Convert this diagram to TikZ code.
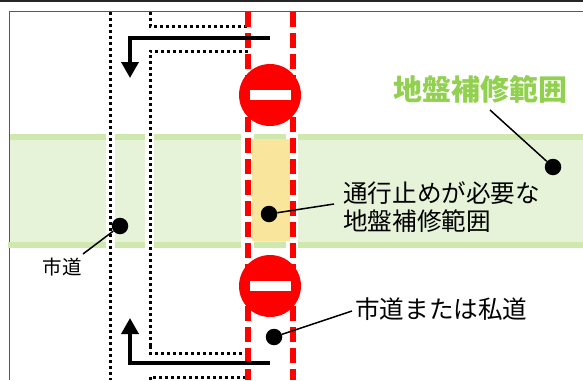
\documentclass[tikz,border=0pt]{standalone}
\usepackage{fontspec}
\newfontfamily\jpfont{Noto Sans CJK JP}
\usetikzlibrary{arrows.meta,positioning,calc}
\definecolor{bandlight}{HTML}{E6F3D8}
\definecolor{banddark}{HTML}{CFE8AE}
\definecolor{bandtext}{HTML}{92D050}
\definecolor{closedzone}{HTML}{F9E59B}
\tikzset{
  x=1pt,y=-1pt,
  dotline/.style={line width=3pt,dash pattern=on 3pt off 3pt},
  redline/.style={red,line width=6pt,dash pattern=on 15pt off 6pt},
  detour/.style={line width=3.6pt,-{Triangle[length=16pt,width=17pt]}},
  noentry/.style={circle,fill=red,minimum size=62pt,inner sep=0pt},
  noentrybar/.style={fill=white,minimum width=41pt,minimum height=10.5pt,inner sep=0pt},
  pin/.style={circle,fill=black,minimum size=16.5pt,inner sep=0pt},
  leader/.style={line width=1.5pt},
  label/.style={font=\jpfont\fontsize{24.6}{30}\selectfont,anchor=west,inner sep=0pt,align=left},
}
\begin{document}
\begin{tikzpicture}
    \useasboundingbox (0,0) rectangle (583,380);
    % frame
    \draw[line width=2pt,black!85] (0,0.5) -- (583,0.5);
    \draw[line width=1pt,black!65] (9,380) -- (9,11) -- (583,11);

    % ground repair band
    \fill[bandlight] (10,139) rectangle (583,242);
    \fill[banddark] (10,134) rectangle (583,140);
    \fill[banddark] (8,242) rectangle (583,247.5);
    \fill[white] (106,132) rectangle (115,249);
    \fill[white] (145,132) rectangle (154,249);
    \fill[white] (241,132) rectangle (254,249);
    \fill[white] (286,132) rectangle (298,249);
    \fill[closedzone] (252,139) rectangle (290,241);

    % side roads
    \draw[dotline] (110,12) -- (110,380);
    \draw[dotline] (150,12) -- (150,26) -- (249,26);
    \draw[dotline] (150,346) -- (150,51) -- (249,51);
    \draw[dotline] (150,346) -- (150,353) -- (249,353);
    \draw[dotline] (150,380) -- (150,377) -- (249,377);

    % closed road
    \draw[redline] (247.5,12) -- (247.5,380);
    \draw[redline] (292.5,12) -- (292.5,380);

    \node[noentry] (signtop) at (270,95) {};
    \node[noentrybar] at (signtop.center) {};
    \node[noentry] (signbottom) at (270,286) {};
    \node[noentrybar] at (signbottom.center) {};

    % detours
    \coordinate (detourtop) at (270,38);
    \coordinate (cornertop) at (130,38);
    \coordinate (tiptop) at (130,78);
    \coordinate (detourbottom) at (270,363);
    \coordinate (cornerbottom) at (130,363);
    \coordinate (tipbottom) at (130,318);
    \draw[detour] (detourtop) -- (cornertop) -- (tiptop);
    \draw[detour] (detourbottom) -- (cornerbottom) -- (tipbottom);

    % labels
    \node[label,font=\jpfont\bfseries\fontsize{29}{30}\selectfont,text=bandtext] (bandlabel) at (393,89) {地盤補修範囲};
    \node[label] (closedlabel) at (343,207) {通行止めが必要な\\[-2.5pt]地盤補修範囲};
    \node[label] (roadlabel) at (355,309) {市道または私道};
    \node[label,font=\jpfont\fontsize{19.5}{20}\selectfont] (citylabel) at (42.5,267) {市道};

    \node[pin] (pinband) at (553,167) {};
    \node[pin] (pinclosed) at (269,214) {};
    \node[pin] (pinroad) at (274,337) {};
    \node[pin] (pincity) at (120,226) {};

    \coordinate (endband) at (490,110);
    \coordinate (endclosed) at (334,204);
    \coordinate (endroad) at (352,311);
    \coordinate (endcity) at (83,254);
    \draw[leader] (pinband) -- (endband);
    \draw[leader] (pinclosed) -- (endclosed);
    \draw[leader] (pinroad) -- (endroad);
    \draw[leader] (pincity) -- (endcity);
\end{tikzpicture}
\end{document}
